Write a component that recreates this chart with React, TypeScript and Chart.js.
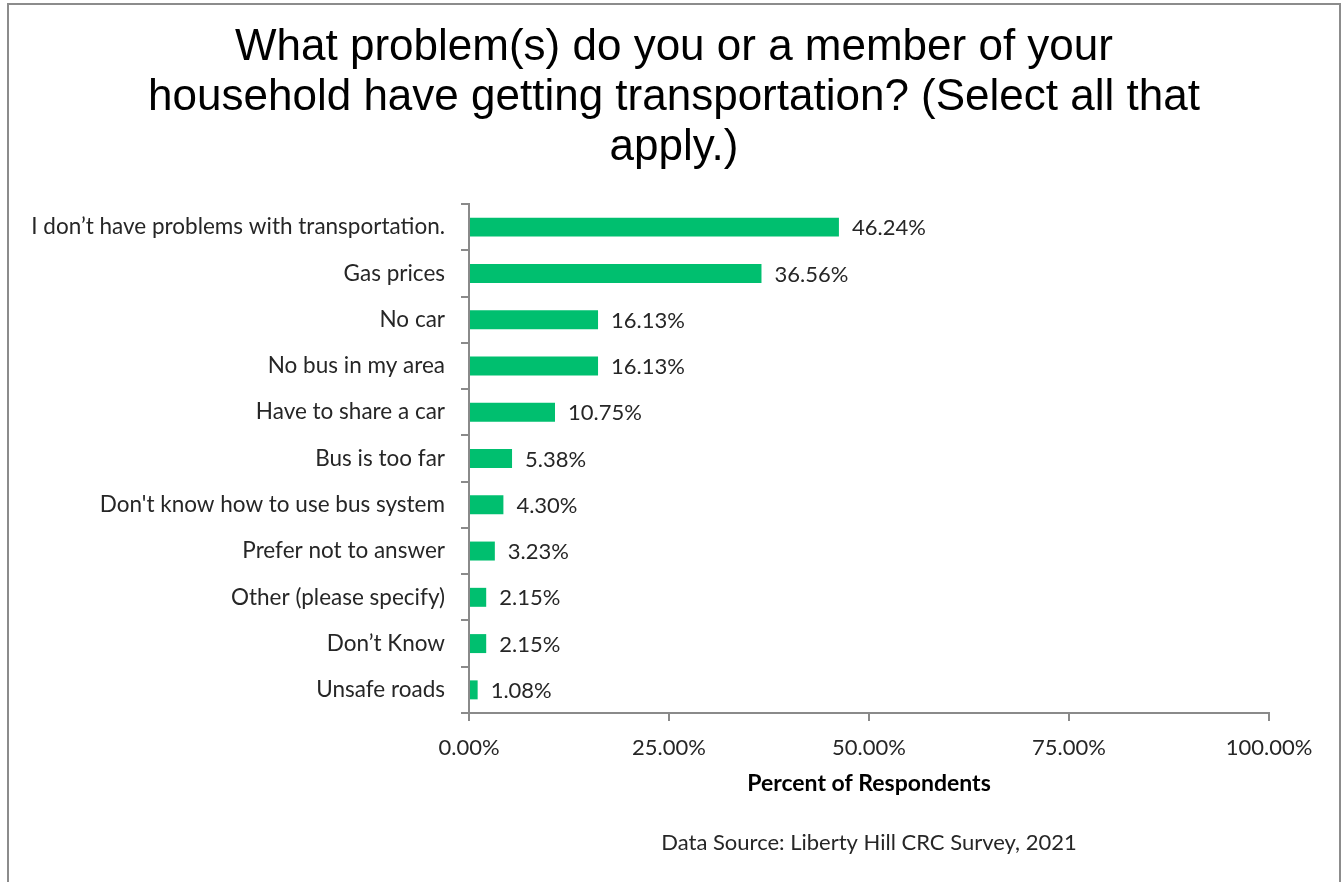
import React, { useEffect, useRef } from 'react';
import { Chart, registerables } from 'chart.js';

Chart.register(...registerables);

const titleLines = [
  'What problem(s) do you or a member of your',
  'household have getting transportation? (Select all that',
  'apply.)',
];

const categories = [
  'I don’t have problems with transportation.',
  'Gas prices',
  'No car',
  'No bus in my area',
  'Have to share a car',
  'Bus is too far',
  "Don't know how to use bus system",
  'Prefer not to answer',
  'Other (please specify)',
  'Don’t Know',
  'Unsafe roads',
];

const values = [46.24, 36.56, 16.13, 16.13, 10.75, 5.38, 4.3, 3.23, 2.15, 2.15, 1.08];

const xTickValues = [0, 25, 50, 75, 100];
const axisTitle = 'Percent of Respondents';
const sourceNote = 'Data Source: Liberty Hill CRC Survey, 2021';

const LABEL_FONT = 'Lato, "Open Sans", sans-serif';
const TEXT_COLOR = '#262626';
const AXIS_COLOR = '#8a8a8a';
const BAR_COLOR = '#00BF6F';

const fmt = (v: number) => v.toFixed(2) + '%';

const dataLabelPlugin = {
  id: 'dataLabels',
  afterDatasetsDraw(chart: any) {
    const ctx = chart.ctx;
    const meta = chart.getDatasetMeta(0);
    ctx.save();
    ctx.font = `22px ${LABEL_FONT}`;
    ctx.fillStyle = TEXT_COLOR;
    ctx.textAlign = 'left';
    ctx.textBaseline = 'middle';
    meta.data.forEach((bar: any, i: number) => {
      ctx.fillText(fmt(values[i]), bar.x + 13, bar.y + 1);
    });
    ctx.restore();
  },
};

const footnotePlugin = {
  id: 'footnote',
  afterDraw(chart: any) {
    const ctx = chart.ctx;
    const area = chart.chartArea;
    ctx.save();
    ctx.font = `22px ${LABEL_FONT}`;
    ctx.fillStyle = TEXT_COLOR;
    ctx.textAlign = 'center';
    ctx.textBaseline = 'middle';
    ctx.fillText(sourceNote, (area.left + area.right) / 2, 843);
    ctx.restore();
  },
};

export default function App() {
  const canvasRef = useRef<HTMLCanvasElement | null>(null);

  useEffect(() => {
    if (!canvasRef.current) return;
    const chart = new Chart(canvasRef.current, {
      type: 'bar',
      data: {
        labels: categories,
        datasets: [
          {
            data: values,
            backgroundColor: BAR_COLOR,
            borderWidth: 0,
            barPercentage: 0.41,
            categoryPercentage: 1,
          },
        ],
      },
      options: {
        indexAxis: 'y',
        responsive: false,
        animation: false,
        layout: { padding: { top: 0, left: 4, right: 0, bottom: 85 } },
        plugins: {
          legend: { display: false },
          tooltip: { enabled: false },
          title: {
            display: true,
            text: titleLines,
            color: '#000',
            font: { family: '"Liberation Sans", Arial, sans-serif', size: 44, weight: 'normal', lineHeight: 50 / 44 },
            padding: { top: 23, bottom: 31 },
          },
        },
        scales: {
          x: {
            type: 'linear',
            min: 0,
            max: 100,
            afterBuildTicks: (s: any) => {
              s.ticks = xTickValues.map((v) => ({ value: v }));
            },
            ticks: {
              callback: (v: any) => fmt(Number(v)),
              font: { family: LABEL_FONT, size: 22 },
              color: TEXT_COLOR,
              padding: 14,
              maxRotation: 0,
            },
            grid: { drawOnChartArea: false, drawTicks: true, tickLength: 8, color: AXIS_COLOR, lineWidth: 2 },
            border: { color: AXIS_COLOR, width: 2 },
            title: {
              display: true,
              text: axisTitle,
              color: '#000',
              font: { family: LABEL_FONT, size: 23, weight: 'bold' },
              padding: { top: 0, bottom: 0 },
            },
            afterFit: (s: any) => {
              s.height = 84;
            },
          },
          y: {
            ticks: {
              font: { family: LABEL_FONT, size: 22.5 },
              color: TEXT_COLOR,
              padding: 16,
              autoSkip: false,
            },
            grid: { drawOnChartArea: false, drawTicks: true, tickLength: 8, color: AXIS_COLOR, lineWidth: 2, offset: true },
            border: { color: AXIS_COLOR, width: 2 },
            afterFit: (s: any) => {
              s.width = 469 - 4;
            },
          },
          spacer: {
            type: 'category',
            position: 'right',
            labels: [''],
            ticks: { display: false },
            grid: { display: false },
            border: { display: false },
            afterFit: (s: any) => {
              s.width = 75;
            },
          },
        },
      } as any,
      plugins: [dataLabelPlugin, footnotePlugin],
    });
    return () => chart.destroy();
  }, []);

  return (
    <>
      <div
        style={{
          position: 'fixed',
          left: 7,
          top: 3,
          width: 1334,
          height: 900,
          border: '2px solid #8c8c8c',
          boxSizing: 'border-box',
          pointerEvents: 'none',
        }}
      />
      <canvas
        ref={canvasRef}
        width={1344}
        height={882}
        style={{ position: 'fixed', left: 0, top: 0, width: 1344, height: 882 }}
      />
    </>
  );
}
